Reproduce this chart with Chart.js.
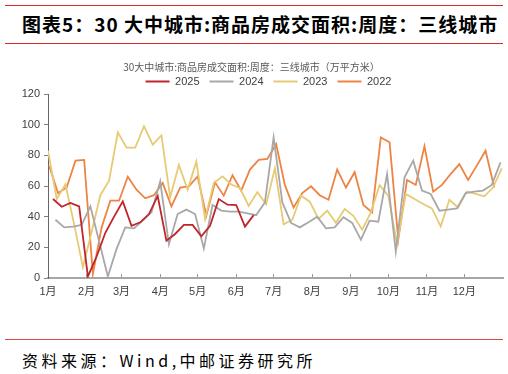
<!DOCTYPE html>
<html><head><meta charset="utf-8">
<script src="https://cdn.jsdelivr.net/npm/chart.js@4/dist/chart.umd.min.js"></script>
<style>
html,body{margin:0;padding:0;background:#fff;width:508px;height:374px;overflow:hidden;position:relative;}
.rule{position:absolute;left:5px;width:498px;height:1px;background:#d42a2a;}
#title{position:absolute;left:22px;top:11px;font-family:"Noto Sans CJK SC";font-weight:bold;font-size:19px;letter-spacing:1px;color:#000;white-space:nowrap;line-height:26px;}
#c{position:absolute;left:0;top:61px;}
#src{position:absolute;left:22px;top:347px;font-family:"Noto Sans CJK SC";font-size:16px;letter-spacing:3.5px;color:#000;white-space:nowrap;line-height:26px;}
</style></head>
<body>
<div class="rule" style="top:5px"></div>
<div id="title">图表5：30 大中城市:商品房成交面积:周度：三线城市</div>
<div class="rule" style="top:43px"></div>
<canvas id="c" width="508" height="239"></canvas>
<div class="rule" style="top:339px;background:#e04848"></div>
<div id="src">资料来源：Wind,中邮证券研究所</div>
<script>
// ---- data ----
const chartTitle = '30大中城市:商品房成交面积:周度：三线城市（万平方米）';
const monthLabels = ['1月','2月','3月','4月','5月','6月','7月','8月','9月','10月','11月','12月'];
const monthStartDays = [0,31,59,90,120,151,181,212,243,273,304,334];
const seriesNames = ['2025','2024','2023','2022'];
const firstWeekDates = ['2025-01-05','2024-01-07','2023-01-01','2022-01-02'];
const v2025 = [51.5,46.5,49,46.7,1,14,29.5,40,50,34,36.3,41.7,53.5,24.3,28.7,34.6,34.6,27.2,34,51.5,47.8,47.6,33.5,41];
const v2024 = [38,33,33.5,34.6,46.7,24,1,19,33,32.4,37.4,42.8,63,22,41.7,44.6,41.7,19.3,47.6,44,43.3,43.3,42.2,41,49.3,91.7,49.3,35.9,33,36.3,40,32.4,33,39.6,35.9,25,37.4,36.7,67.8,17.2,65.7,76.5,57,54.8,43.9,44.6,45.4,55.4,56.3,57,60.7,75.4];
const v2023 = [83,51.5,61,35,7,30,54,63.5,95,85,85,99,87,93,52.6,73.7,57.6,75.9,38.5,62,66.3,61,58.7,47,56,48,71.5,35,38,53.7,49.8,38.5,44,36,45,40.6,31.5,42.8,60.6,53.7,22,54.8,51.5,48.3,45.4,33.7,51,46,56.3,54.8,53.3,59,71.5];
const v2022 = [73,55.4,59,76.5,77,2.6,33,50.4,50.4,66,57.6,52,54,62,46.7,59,59.8,66.3,40.6,62.4,53.7,67,57,70.7,77,77.6,87.4,60.7,46,55.4,59.8,54,51,70.7,59,69,47.6,42.8,91.7,88.5,25,64,60.7,86,56.3,60.7,67.8,74.3,64,73.3,83,59];
const seriesValues = [v2025, v2024, v2023, v2022];
const seriesColors = ['#C0252B','#A8A8A8','#E6CA74','#EC8444'];

// ---- build ----
function dayOfYear(d){ const t = new Date(d + 'T00:00:00Z'); return Math.round((t - Date.UTC(t.getUTCFullYear(),0,1))/86400000); }
const datasets = seriesNames.map((name, k) => {
  const start = dayOfYear(firstWeekDates[k]);
  return {
    label: name,
    data: seriesValues[k].map((v, i) => ({x: start + 7*i, y: v})),
    borderColor: seriesColors[k],
    backgroundColor: seriesColors[k],
    borderWidth: 1.8,
    pointRadius: 0,
    pointBorderWidth: 2,
    tension: 0
  };
});
const tickFont = {family: '"Liberation Sans", "Noto Sans CJK SC", sans-serif', size: 11};
const legendShift = {
  id: 'legendShift',
  afterLayout(chart){ const lg = chart.legend; lg.left += 17; lg.right += 17; lg.top -= 7; lg.bottom -= 7; }
};
new Chart(document.getElementById('c'), {
  type: 'line',
  data: {datasets},
  plugins: [legendShift],
  options: {
    responsive: false,
    animation: false,
    layout: {padding: {left: 0, right: 5, top: 0, bottom: 0}},
    plugins: {
      title: {display: true, text: chartTitle, color: '#595959',
        font: {family: '"Noto Sans CJK SC"', size: 10, weight: 'normal'}, padding: {top: 0, bottom: 0}},
      legend: {maxHeight: 21, labels: {usePointStyle: true, pointStyle: 'line', pointStyleWidth: 24,
        font: tickFont, color: '#404040', padding: 10}},
      tooltip: {enabled: false}
    },
    scales: {
      x: {type: 'linear', min: 0, max: 365,
        afterBuildTicks: s => { s.ticks = monthStartDays.map(v => ({value: v})); },
        afterFit: s => { s.height = 22; },
        ticks: {callback: (v, i) => monthLabels[i], font: tickFont, color: '#404040', padding: 11, autoSkip: false, maxRotation: 0},
        grid: {drawOnChartArea: false, tickLength: -4, color: '#9a9a9a', lineWidth: 1},
        border: {color: '#a6a6a6', width: 2}
      },
      y: {min: 0, max: 120,
        afterFit: s => { s.width = 48; },
        ticks: {stepSize: 20, font: tickFont, color: '#404040', padding: 4},
        grid: {drawOnChartArea: false, tickLength: 4, color: '#808080'},
        border: {color: '#666666', width: 1}
      }
    }
  }
});
</script>
</body></html>
